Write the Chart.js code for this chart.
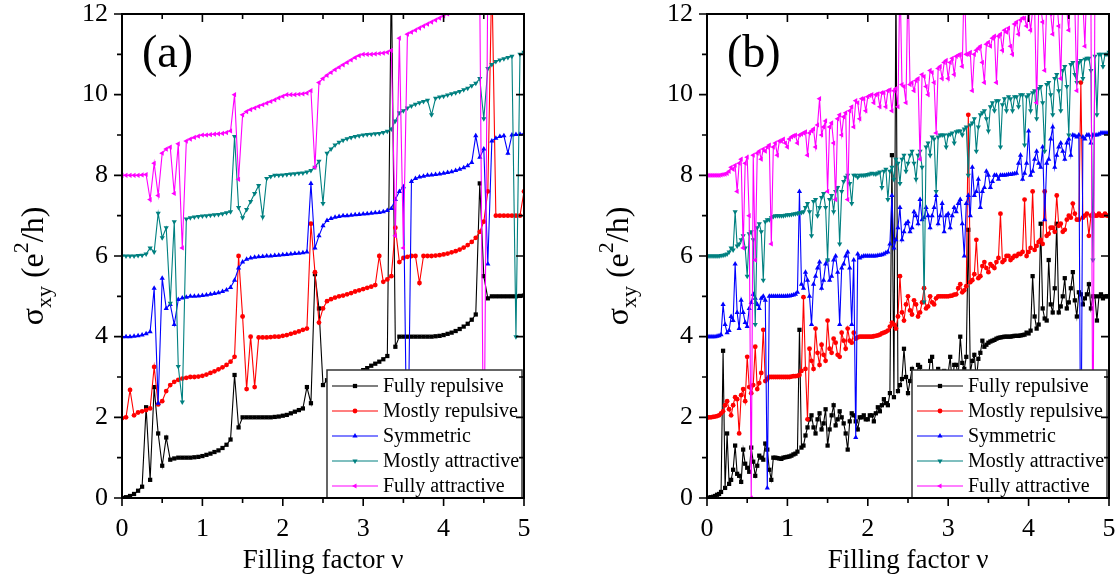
<!DOCTYPE html>
<html>
<head>
<meta charset="utf-8">
<script src="https://cdn.jsdelivr.net/npm/chart.js@4.4.1/dist/chart.umd.min.js"></script>
<style>
  html, body { margin: 0; padding: 0; background: #fff; }
  body { width: 1119px; height: 582px; position: relative; overflow: hidden; }
  .panel { position: absolute; top: 0; }
  #panelA { left: 0; }
  #panelB { left: 585px; }
</style>
</head>
<body>
<div class="panel" id="panelA"><canvas id="chartA" width="560" height="582"></canvas></div>
<div class="panel" id="panelB"><canvas id="chartB" width="534" height="582"></canvas></div>
<script>
// filling factor grid for panel (a)
const nuA = [
  0.00, 0.05, 0.10, 0.15, 0.20, 0.25, 0.30, 0.35, 0.40, 0.45,
  0.50, 0.55, 0.60, 0.65, 0.70, 0.75, 0.80, 0.85, 0.90, 0.95,
  1.00, 1.05, 1.10, 1.15, 1.20, 1.25, 1.30, 1.35, 1.40, 1.45,
  1.50, 1.55, 1.60, 1.65, 1.70, 1.75, 1.80, 1.85, 1.90, 1.95,
  2.00, 2.05, 2.10, 2.15, 2.20, 2.25, 2.30, 2.35, 2.40, 2.45,
  2.50, 2.55, 2.60, 2.65, 2.70, 2.75, 2.80, 2.85, 2.90, 2.95,
  3.00, 3.05, 3.10, 3.15, 3.20, 3.25, 3.30, 3.35, 3.40, 3.45,
  3.50, 3.55, 3.60, 3.65, 3.70, 3.75, 3.80, 3.85, 3.90, 3.95,
  4.00, 4.05, 4.10, 4.15, 4.20, 4.25, 4.30, 4.35, 4.40, 4.45,
  4.50, 4.55, 4.60, 4.65, 4.70, 4.75, 4.80, 4.85, 4.90, 4.95,
  5.00
];

// finer grid for the noisier panel (b)
const nuB = [
  0.000, 0.025, 0.050, 0.075, 0.100, 0.125, 0.150, 0.175, 0.200, 0.225, 0.250, 0.275, 0.300, 0.325, 0.350, 0.375, 0.400, 0.425, 0.450, 0.475,
  0.500, 0.525, 0.550, 0.575, 0.600, 0.625, 0.650, 0.675, 0.700, 0.725, 0.750, 0.775, 0.800, 0.825, 0.850, 0.875, 0.900, 0.925, 0.950, 0.975,
  1.000, 1.025, 1.050, 1.075, 1.100, 1.125, 1.150, 1.175, 1.200, 1.225, 1.250, 1.275, 1.300, 1.325, 1.350, 1.375, 1.400, 1.425, 1.450, 1.475,
  1.500, 1.525, 1.550, 1.575, 1.600, 1.625, 1.650, 1.675, 1.700, 1.725, 1.750, 1.775, 1.800, 1.825, 1.850, 1.875, 1.900, 1.925, 1.950, 1.975,
  2.000, 2.025, 2.050, 2.075, 2.100, 2.125, 2.150, 2.175, 2.200, 2.225, 2.250, 2.275, 2.300, 2.325, 2.350, 2.375, 2.400, 2.425, 2.450, 2.475,
  2.500, 2.525, 2.550, 2.575, 2.600, 2.625, 2.650, 2.675, 2.700, 2.725, 2.750, 2.775, 2.800, 2.825, 2.850, 2.875, 2.900, 2.925, 2.950, 2.975,
  3.000, 3.025, 3.050, 3.075, 3.100, 3.125, 3.150, 3.175, 3.200, 3.225, 3.250, 3.275, 3.300, 3.325, 3.350, 3.375, 3.400, 3.425, 3.450, 3.475,
  3.500, 3.525, 3.550, 3.575, 3.600, 3.625, 3.650, 3.675, 3.700, 3.725, 3.750, 3.775, 3.800, 3.825, 3.850, 3.875, 3.900, 3.925, 3.950, 3.975,
  4.000, 4.025, 4.050, 4.075, 4.100, 4.125, 4.150, 4.175, 4.200, 4.225, 4.250, 4.275, 4.300, 4.325, 4.350, 4.375, 4.400, 4.425, 4.450, 4.475,
  4.500, 4.525, 4.550, 4.575, 4.600, 4.625, 4.650, 4.675, 4.700, 4.725, 4.750, 4.775, 4.800, 4.825, 4.850, 4.875, 4.900, 4.925, 4.950, 4.975,
  5.000
];

const seriesNames = ['Fully repulsive', 'Mostly repulsive', 'Symmetric', 'Mostly attractive', 'Fully attractive'];

const xTicks = [0, 1, 2, 3, 4, 5];
const xMinorTicks = [0.5, 1.5, 2.5, 3.5, 4.5];
const yTicks = [0, 2, 4, 6, 8, 10, 12];
const yMinorTicks = [1, 3, 5, 7, 9, 11];

// panel (a), sigma_xy in e^2/h (curves offset by 2 each)
const repA = [
  0.00, 0.02, 0.05, 0.10, 0.18, 0.28, 2.25, 0.45, 2.75, 1.60,
  0.80, 1.50, 0.95, 0.98, 1.00, 1.00, 1.00, 1.00, 1.01, 1.02,
  1.04, 1.07, 1.10, 1.14, 1.18, 1.24, 1.32, 1.45, 3.05, 1.75,
  2.00, 2.00, 2.00, 2.00, 2.00, 2.00, 2.00, 2.00, 2.01, 2.02,
  2.04, 2.06, 2.10, 2.14, 2.18, 2.22, 2.75, 2.35, 5.55, 4.70,
  2.80, 2.92, 2.97, 3.00, 3.00, 3.00, 3.00, 3.02, 3.05, 3.10,
  3.17, 3.22, 3.28, 3.33, 3.38, 3.44, 3.52, 13.0, 3.75, 4.00,
  4.00, 4.00, 4.00, 4.00, 4.00, 4.00, 4.00, 4.00, 4.01, 4.02,
  4.04, 4.07, 4.10, 4.14, 4.19, 4.25, 4.32, 4.42, 4.55, 7.80,
  5.50, 4.95, 5.00, 5.00, 5.00, 5.00, 5.00, 5.00, 5.00, 5.01,
  5.02
];
const mRepA = [
  1.98, 2.00, 2.68, 2.05, 2.12, 2.15, 2.18, 2.22, 3.25, 2.32,
  2.40, 2.65, 2.80, 2.88, 2.93, 2.96, 2.98, 3.00, 3.00, 3.01,
  3.03, 3.06, 3.10, 3.14, 3.19, 3.24, 3.30, 3.38, 3.50, 6.00,
  4.50, 2.70, 4.00, 2.75, 3.98, 3.98, 3.98, 3.99, 4.00, 4.00,
  4.02, 4.04, 4.07, 4.10, 4.13, 4.17, 4.20, 6.80, 5.60, 4.35,
  4.70, 4.88, 4.93, 4.97, 5.00, 5.02, 5.05, 5.08, 5.12, 5.15,
  5.18, 5.21, 5.24, 5.28, 6.00, 5.36, 5.42, 5.50, 6.70, 5.85,
  5.95, 5.98, 6.00, 6.00, 5.33, 6.00, 6.00, 6.00, 6.01, 6.02,
  6.04, 6.06, 6.09, 6.12, 6.16, 6.21, 6.27, 6.35, 6.45, 6.60,
  6.85, 7.60, 13.0, 7.00, 7.00, 7.00, 7.00, 7.00, 7.00, 7.00,
  7.60
];
const symA = [
  4.00, 4.00, 4.00, 4.01, 4.02, 4.04, 4.07, 4.12, 5.20, 2.35,
  5.45, 4.70, 4.80, 4.30, 4.92, 4.96, 4.98, 5.00, 5.00, 5.01,
  5.02, 5.03, 5.05, 5.07, 5.09, 5.12, 5.16, 5.22, 5.40, 5.70,
  5.85, 5.92, 5.95, 5.97, 5.98, 5.99, 6.00, 6.00, 6.01, 6.02,
  6.03, 6.04, 6.05, 6.06, 6.07, 6.08, 6.10, 7.80, 6.20, 6.50,
  6.75, 6.88, 6.93, 6.96, 6.98, 7.00, 7.00, 7.01, 7.02, 7.03,
  7.04, 7.05, 7.06, 7.07, 7.08, 7.10, 7.13, 7.18, 7.40, 7.60,
  7.72, 0.00, 7.85, 7.92, 7.96, 7.98, 8.00, 8.01, 8.02, 8.03,
  8.05, 8.07, 8.09, 8.12, 8.15, 8.19, 8.24, 8.32, 8.98, 8.45,
  8.65, 5.80, 8.85, 8.92, 8.96, 8.98, 8.55, 9.00, 9.01, 9.02,
  9.03
];
const mAttA = [
  6.00, 6.00, 6.00, 6.00, 6.01, 6.02, 6.05, 6.20, 6.10, 7.06,
  6.45, 6.70, 4.83, 6.85, 3.26, 2.38, 6.92, 6.95, 6.97, 6.98,
  6.99, 7.00, 7.01, 7.02, 7.03, 7.05, 7.07, 7.10, 8.96, 7.20,
  6.95, 7.15, 7.35, 7.55, 7.75, 6.97, 7.92, 7.97, 8.00, 8.00,
  8.01, 8.02, 8.03, 8.04, 8.05, 8.06, 8.08, 8.12, 8.20, 8.35,
  7.30, 8.55, 8.65, 8.75, 8.82, 8.87, 8.91, 8.94, 8.96, 8.98,
  9.00, 9.01, 9.02, 9.03, 9.04, 9.06, 9.09, 9.15, 9.35, 9.55,
  9.60, 9.67, 9.72, 9.76, 9.80, 9.83, 9.86, 9.50, 9.91, 9.94,
  9.96, 9.99, 10.02, 10.05, 10.08, 10.12, 10.16, 10.22, 10.28, 10.40,
  9.40, 10.65, 10.75, 10.82, 10.86, 10.89, 10.92, 10.95, 4.00, 11.00,
  11.05
];
const attA = [
  8.00, 8.00, 8.00, 8.00, 8.00, 8.01, 8.02, 7.40, 8.30, 7.50,
  8.55, 8.65, 8.70, 7.55, 8.78, 6.20, 8.85, 8.90, 8.94, 8.97,
  9.00, 9.00, 9.01, 9.02, 9.03, 9.04, 9.06, 9.10, 10.00, 7.90,
  9.50, 9.58, 9.63, 9.67, 9.71, 9.75, 9.79, 9.83, 9.87, 9.92,
  9.96, 10.00, 10.00, 10.00, 10.01, 10.02, 10.04, 10.10, 8.20, 10.30,
  10.40, 10.48, 10.55, 10.62, 10.68, 10.74, 10.80, 10.86, 10.92, 10.97,
  11.00, 11.00, 11.00, 11.01, 11.02, 11.03, 11.05, 11.10, 6.50, 11.40,
  6.20, 11.50, 11.55, 11.60, 11.65, 11.70, 11.75, 11.80, 11.85, 11.90,
  11.95, 12.00, 12.05, 12.10, 12.15, 12.20, 12.25, 12.30, 12.35, 12.40,
  0.00, 12.90, 13.00, 13.00, 13.00, 13.00, 13.00, 13.00, 13.00, 13.00,
  13.00
];

// panel (b), same offsets, strongly disordered case
const repB = [
  0.00, 0.01, 0.02, 0.03, 0.05, 0.08, 0.10, 0.15, 3.65, 0.25, 1.60, 0.35, 0.45, 0.70, 1.30, 0.60, 0.55, 0.40, 1.20, 0.85,
  0.75, 0.65, 1.25, 0.90, 0.55, 0.80, 1.05, 1.00, 0.95, 1.35, 1.20, 0.70, 0.45, 1.00, 1.00, 0.99, 0.98, 0.97, 1.00, 1.01,
  1.02, 1.03, 1.05, 1.08, 1.10, 1.15, 4.17, 1.25, 1.30, 1.55, 1.75, 1.95, 2.05, 1.75, 1.60, 1.95, 2.10, 1.70, 1.85, 2.20,
  1.30, 1.70, 2.05, 2.30, 1.80, 1.95, 2.15, 2.00, 1.85, 1.60, 1.20, 1.90, 2.10, 2.05, 1.90, 1.70, 2.00, 2.00, 2.05, 1.95,
  1.95, 2.05, 2.05, 1.90, 2.10, 2.25, 2.15, 2.30, 2.45, 2.35, 2.30, 2.60, 8.50, 2.50, 13.0, 2.65, 2.80, 2.95, 3.70, 3.00,
  2.60, 2.90, 3.20, 2.75, 2.70, 3.30, 3.25, 2.85, 3.10, 3.00, 2.85, 3.40, 3.50, 2.70, 3.05, 3.20, 2.80, 3.00, 3.15, 2.95,
  3.10, 3.50, 2.80, 3.30, 3.30, 3.00, 4.00, 3.35, 3.20, 3.50, 6.65, 3.10, 3.40, 3.55, 2.90, 3.45, 3.60, 3.90, 3.75, 3.80,
  3.85, 3.88, 3.90, 3.92, 3.95, 3.97, 3.98, 3.99, 4.00, 4.00, 4.00, 4.00, 4.01, 4.02, 4.02, 4.02, 4.03, 4.04, 4.05, 4.10,
  4.08, 4.15, 5.50, 4.50, 4.20, 4.30, 6.80, 4.70, 4.45, 4.40, 5.90, 4.80, 4.60, 5.20, 6.80, 4.60, 4.75, 5.00, 5.45, 4.70,
  4.85, 5.20, 5.60, 4.90, 4.50, 5.10, 5.05, 4.80, 4.95, 5.05, 5.30, 4.70, 5.00, 5.00, 4.40, 5.00, 5.05, 4.95, 5.00, 5.00,
  5.00
];
const mRepB = [
  2.00, 2.00, 2.00, 2.01, 2.02, 2.03, 2.05, 2.10, 2.15, 2.30, 2.40, 2.20, 2.05, 2.30, 2.50, 2.45, 1.60, 2.55, 2.70, 2.40,
  3.50, 2.75, 2.60, 2.80, 3.75, 2.70, 2.85, 3.10, 4.17, 2.90, 2.95, 3.00, 3.00, 3.00, 3.00, 3.00, 3.00, 3.00, 3.00, 3.00,
  3.00, 3.00, 3.01, 3.02, 3.02, 3.03, 3.05, 3.15, 4.98, 3.20, 1.95, 3.70, 3.40, 3.20, 4.20, 3.60, 3.30, 3.80, 3.55, 3.40,
  4.40, 3.70, 3.60, 3.95, 3.85, 3.55, 3.50, 4.10, 3.90, 3.70, 4.20, 3.90, 3.85, 4.10, 3.95, 3.98, 4.00, 4.00, 4.00, 4.00,
  4.00, 4.00, 4.00, 4.01, 4.02, 4.03, 4.05, 4.08, 4.10, 4.12, 4.15, 4.25, 4.35, 4.30, 4.20, 4.50, 5.50, 4.60, 4.40, 4.80,
  5.00, 4.65, 4.55, 4.90, 4.80, 4.50, 4.60, 4.85, 5.20, 4.70, 4.75, 5.00, 4.85, 4.80, 4.95, 5.00, 5.00, 5.00, 5.00, 5.00,
  5.00, 5.01, 5.02, 5.04, 5.05, 5.20, 5.30, 5.10, 5.15, 5.25, 9.50, 5.35, 5.40, 5.55, 6.40, 5.45, 5.50, 5.75, 5.85, 5.70,
  5.60, 5.80, 5.75, 5.70, 5.85, 5.95, 7.05, 5.85, 5.90, 6.00, 6.00, 5.90, 5.95, 6.00, 6.00, 6.05, 6.05, 6.10, 7.40, 6.00,
  6.10, 6.20, 7.60, 6.15, 6.25, 6.35, 6.40, 6.30, 7.60, 6.50, 6.55, 6.70, 6.70, 6.60, 7.50, 6.75, 6.80, 6.60, 6.65, 6.90,
  7.00, 6.95, 7.30, 7.05, 6.90, 6.90, 10.30, 6.95, 7.00, 7.05, 6.50, 7.00, 7.05, 7.00, 7.00, 7.05, 7.00, 7.00, 7.05, 7.00,
  7.00
];
const symB = [
  4.00, 4.00, 4.00, 4.00, 4.00, 4.01, 4.02, 4.05, 4.80, 4.30, 4.10, 4.15, 4.50, 4.40, 5.80, 4.60, 4.20, 4.90, 4.60, 4.35,
  4.25, 4.70, 4.85, 5.05, 4.95, 4.80, 4.70, 4.95, 5.00, 4.90, 0.25, 5.00, 5.00, 5.00, 5.00, 5.00, 5.00, 5.00, 5.00, 5.00,
  5.01, 5.01, 5.02, 5.03, 5.05, 5.10, 7.60, 5.30, 5.20, 5.60, 5.40, 5.00, 4.30, 5.30, 5.50, 5.70, 5.85, 5.20, 5.40, 5.80,
  5.90, 5.40, 5.50, 5.90, 6.00, 5.60, 4.30, 5.70, 5.80, 6.00, 6.10, 5.70, 4.30, 5.90, 1.50, 6.05, 5.95, 5.98, 6.00, 6.00,
  6.00, 6.00, 6.00, 6.00, 6.00, 6.01, 6.02, 6.03, 6.05, 6.08, 6.10, 6.30, 7.50, 6.20, 6.40, 6.70, 7.20, 6.40, 6.60, 6.80,
  6.85, 6.60, 6.70, 7.10, 7.00, 6.80, 7.40, 6.90, 6.95, 7.20, 7.00, 6.70, 7.00, 7.20, 7.50, 6.80, 7.00, 7.30, 6.60, 7.00,
  7.05, 6.70, 7.00, 7.20, 7.10, 7.30, 7.40, 6.80, 6.00, 7.30, 7.50, 7.00, 8.20, 7.50, 7.60, 7.90, 7.20, 7.60, 7.70, 8.10,
  8.00, 7.70, 7.85, 8.00, 8.00, 7.90, 8.00, 8.00, 8.00, 8.01, 8.02, 8.02, 8.03, 8.04, 8.05, 8.30, 8.50, 7.90, 8.05, 8.30,
  9.10, 8.00, 8.10, 8.40, 8.60, 8.30, 8.20, 8.70, 6.90, 8.30, 8.40, 8.90, 9.20, 8.20, 8.50, 8.70, 8.80, 8.60, 8.40, 8.80,
  8.90, 8.50, 9.00, 8.98, 8.95, 9.00, 0.00, 8.95, 8.90, 9.00, 9.00, 8.80, 9.00, 9.00, 9.00, 9.02, 9.05, 9.05, 9.05, 9.05,
  9.05
];
const mAttB = [
  6.00, 6.00, 6.00, 6.00, 6.00, 6.00, 6.00, 6.01, 6.02, 6.03, 6.05, 6.10, 6.20, 6.15, 7.10, 6.25, 6.30, 6.40, 6.50, 6.20,
  5.50, 6.55, 6.60, 6.40, 4.30, 6.70, 6.80, 6.60, 5.40, 6.85, 6.90, 6.90, 6.95, 6.98, 7.00, 7.00, 7.00, 7.00, 7.00, 7.01,
  7.02, 7.02, 7.03, 7.04, 7.05, 7.06, 7.07, 7.08, 7.10, 7.20, 7.30, 7.10, 6.50, 7.35, 7.40, 7.00, 7.20, 7.45, 7.55, 7.20,
  5.90, 7.40, 7.50, 7.10, 7.60, 7.70, 6.30, 7.60, 7.85, 7.95, 8.00, 7.80, 7.30, 8.00, 8.00, 7.95, 8.00, 8.00, 8.00, 8.01,
  8.02, 8.03, 8.05, 8.04, 8.03, 8.06, 8.08, 7.70, 8.10, 8.15, 7.40, 8.10, 8.20, 7.90, 8.40, 8.30, 7.80, 8.40, 8.50, 8.10,
  8.30, 8.50, 8.60, 8.30, 7.90, 8.50, 8.60, 8.20, 4.86, 8.70, 8.80, 8.50, 8.95, 8.90, 7.60, 8.95, 9.00, 9.00, 9.00, 8.70,
  9.00, 9.02, 9.05, 8.80, 9.08, 9.10, 9.10, 9.00, 9.15, 9.20, 8.00, 9.25, 9.30, 9.40, 8.60, 9.20, 9.50, 9.55, 9.60, 9.40,
  9.10, 9.70, 9.80, 9.60, 9.85, 9.85, 8.70, 9.75, 9.90, 9.60, 9.95, 9.90, 9.60, 9.95, 9.95, 9.70, 10.00, 10.00, 8.75, 9.95,
  10.00, 9.60, 10.05, 10.10, 9.40, 10.15, 10.20, 9.80, 8.60, 10.25, 10.30, 10.00, 9.50, 10.40, 10.50, 10.10, 9.60, 10.60, 10.70, 10.20,
  9.00, 10.75, 10.80, 10.50, 10.30, 10.80, 10.85, 10.40, 10.88, 10.90, 10.90, 10.60, 5.90, 10.95, 9.50, 11.00, 11.00, 10.70, 11.00, 11.00,
  11.05
];
const attB = [
  8.00, 8.00, 8.00, 8.00, 8.00, 8.00, 8.00, 8.01, 8.02, 8.03, 8.05, 8.10, 8.20, 8.15, 8.25, 7.60, 8.30, 8.40, 6.20, 8.30,
  8.45, 7.00, 0.00, 8.50, 5.90, 8.55, 8.60, 8.40, 8.65, 8.60, 8.70, 8.75, 6.30, 8.70, 8.80, 8.50, 8.85, 8.85, 8.90, 8.80,
  8.70, 8.90, 8.95, 8.98, 9.00, 8.80, 9.00, 9.02, 9.05, 9.08, 8.50, 9.05, 9.10, 9.15, 8.70, 9.25, 9.90, 9.00, 9.20, 9.35,
  7.60, 9.20, 9.30, 8.80, 7.40, 9.40, 9.50, 9.00, 9.45, 9.55, 7.40, 9.60, 9.70, 9.20, 9.85, 9.80, 9.40, 9.90, 9.90, 9.60,
  9.95, 9.98, 10.00, 9.80, 10.00, 10.02, 9.70, 10.05, 10.05, 9.70, 10.10, 10.12, 9.60, 10.10, 10.15, 9.70, 13.00, 10.25, 10.20, 9.80,
  13.00, 10.25, 10.30, 10.10, 10.35, 10.40, 8.40, 10.50, 10.45, 10.20, 10.00, 10.60, 10.55, 10.30, 9.05, 10.65, 10.70, 10.40, 10.80, 10.85,
  10.40, 10.80, 10.90, 10.50, 10.95, 10.98, 11.00, 10.70, 13.00, 11.00, 11.00, 11.05, 10.10, 11.00, 11.10, 11.15, 11.20, 10.80, 10.30, 11.25,
  11.30, 11.20, 11.40, 11.45, 10.30, 11.45, 11.50, 11.10, 11.60, 11.55, 11.65, 11.20, 11.00, 11.75, 11.80, 11.50, 11.85, 11.90, 11.90, 11.70,
  12.00, 11.60, 12.10, 12.15, 9.80, 12.10, 12.20, 11.80, 10.60, 12.25, 12.30, 12.00, 11.50, 12.35, 12.40, 11.70, 10.40, 12.45, 12.50, 12.10,
  11.60, 12.60, 12.70, 12.20, 10.10, 12.75, 12.80, 12.30, 11.20, 12.85, 12.90, 12.50, 0.00, 13.00, 13.00, 13.00, 13.00, 13.00, 13.00, 13.00,
  13.00
];

const colors = ['#000000', '#ff0000', '#0000ff', '#008080', '#ff00ff'];
const markers = [
  { style: 'rect', rot: 0, r: 3 },
  { style: 'circle', rot: 0, r: 2.4 },
  { style: 'triangle', rot: 0, r: 3 },
  { style: 'triangle', rot: 180, r: 3 },
  { style: 'triangle', rot: 270, r: 3 }
];

const SERIF = 'Liberation Serif';

function buildDatasets(grid, curves) {
  return curves.map((vals, i) => ({
    label: seriesNames[i],
    data: grid.map((x, k) => ({ x: x, y: vals[k] })),
    borderColor: colors[i],
    backgroundColor: colors[i],
    borderWidth: 1.1,
    pointStyle: markers[i].style,
    pointRotation: markers[i].rot,
    pointRadius: markers[i].r,
    pointBorderWidth: 0,
    pointBackgroundColor: colors[i],
    pointHoverRadius: 0,
    tension: 0,
    clip: 0,
    order: 4 - i
  }));
}

// frame with Origin-style ticks, legend box, panel tag and axis titles
const decor = {
  id: 'decor',
  afterDraw(chart, args, opts) {
    const ctx = chart.ctx;
    const a = chart.chartArea;
    const xs = chart.scales.x, ys = chart.scales.y;
    ctx.save();

    // legend
    const L = a.right - 197, R = a.right - 2, T = 370, B = a.bottom;
    ctx.fillStyle = '#fff';
    ctx.fillRect(L, T, R - L, B - T);
    ctx.strokeStyle = '#333';
    ctx.lineWidth = 1.5;
    ctx.strokeRect(L, T, R - L, B - T);
    ctx.font = '20px "' + SERIF + '"';
    ctx.textBaseline = 'middle';
    ctx.textAlign = 'left';
    seriesNames.forEach((name, i) => {
      const y = T + 16 + i * 25;
      ctx.strokeStyle = colors[i];
      ctx.lineWidth = 1.2;
      ctx.beginPath();
      ctx.moveTo(L + 5, y);
      ctx.lineTo(L + 51, y);
      ctx.stroke();
      ctx.fillStyle = colors[i];
      Chart.helpers.drawPoint(ctx, {
        pointStyle: markers[i].style, rotation: markers[i].rot,
        radius: markers[i].r, borderWidth: 0
      }, L + 28, y);
      ctx.fillStyle = '#000';
      ctx.fillText(name, L + 56, y + 1);
    });

    // frame
    ctx.strokeStyle = '#000';
    ctx.lineWidth = 2;
    ctx.strokeRect(a.left, a.top, a.right - a.left, a.bottom - a.top);
    ctx.lineWidth = 1.6;
    ctx.beginPath();
    const tickX = (v, len) => {
      const px = xs.getPixelForValue(v);
      ctx.moveTo(px, a.bottom); ctx.lineTo(px, a.bottom + len);
      ctx.moveTo(px, a.top); ctx.lineTo(px, a.top + len);
    };
    const tickY = (v, len) => {
      const py = ys.getPixelForValue(v);
      ctx.moveTo(a.left, py); ctx.lineTo(a.left - len, py);
      ctx.moveTo(a.right, py); ctx.lineTo(a.right - len, py);
    };
    xTicks.forEach(v => tickX(v, 8));
    xMinorTicks.forEach(v => tickX(v, 5));
    yTicks.forEach(v => tickY(v, 8));
    yMinorTicks.forEach(v => tickY(v, 5));
    ctx.stroke();

    // panel tag
    ctx.fillStyle = '#000';
    ctx.textBaseline = 'alphabetic';
    ctx.font = '46px "' + SERIF + '"';
    ctx.fillText(opts.tag, a.left + 20, 67);

    // x title
    ctx.font = '27px "' + SERIF + '"';
    ctx.textAlign = 'center';
    ctx.fillText('Filling factor \u03bd', (a.left + a.right) / 2, 568);

    // y title: sigma_xy (e^2/h), rotated
    const big = '32px "' + SERIF + '"', small = '22px "' + SERIF + '"';
    const parts = [
      { t: '\u03c3', f: big, dy: 0 },
      { t: 'xy', f: small, dy: 8 },
      { t: ' (e', f: big, dy: 0 },
      { t: '2', f: small, dy: -15 },
      { t: '/h)', f: big, dy: 0 }
    ];
    let total = 0;
    parts.forEach(p => { ctx.font = p.f; p.w = ctx.measureText(p.t).width; total += p.w; });
    ctx.translate(a.left - 79, 266);
    ctx.rotate(-Math.PI / 2);
    ctx.textAlign = 'left';
    let cx = -total / 2;
    parts.forEach(p => { ctx.font = p.f; ctx.fillText(p.t, cx, p.dy); cx += p.w; });

    ctx.restore();
  }
};

function makeChart(id, grid, curves, tag, rightPad) {
  return new Chart(document.getElementById(id), {
    type: 'line',
    data: { datasets: buildDatasets(grid, curves) },
    options: {
      responsive: false,
      animation: false,
      events: [],
      layout: { autoPadding: false, padding: { top: 14, right: rightPad, left: 0, bottom: 0 } },
      plugins: {
        legend: { display: false },
        tooltip: { enabled: false },
        decor: { tag: tag }
      },
      scales: {
        x: {
          type: 'linear', min: 0, max: 5,
          afterBuildTicks: s => { s.ticks = xTicks.map(v => ({ value: v })); },
          afterFit: s => { s.height = 84; s.paddingLeft = 0; s.paddingRight = 0; },
          ticks: { color: '#000', padding: 18, maxRotation: 0, font: { family: SERIF, size: 26, lineHeight: 1 } },
          grid: { display: false, drawTicks: false },
          border: { display: false }
        },
        y: {
          type: 'linear', min: 0, max: 12,
          afterBuildTicks: s => { s.ticks = yTicks.map(v => ({ value: v })); },
          afterFit: s => { s.width = 122; s.paddingTop = 0; s.paddingBottom = 0; },
          ticks: { color: '#000', padding: 14, font: { family: SERIF, size: 26, lineHeight: 1 } },
          grid: { display: false, drawTicks: false },
          border: { display: false }
        }
      }
    },
    plugins: [decor]
  });
}

makeChart('chartA', nuA, [repA, mRepA, symA, mAttA, attA], '(a)', 36);
makeChart('chartB', nuB, [repB, mRepB, symB, mAttB, attB], '(b)', 10);
</script>
</body>
</html>
